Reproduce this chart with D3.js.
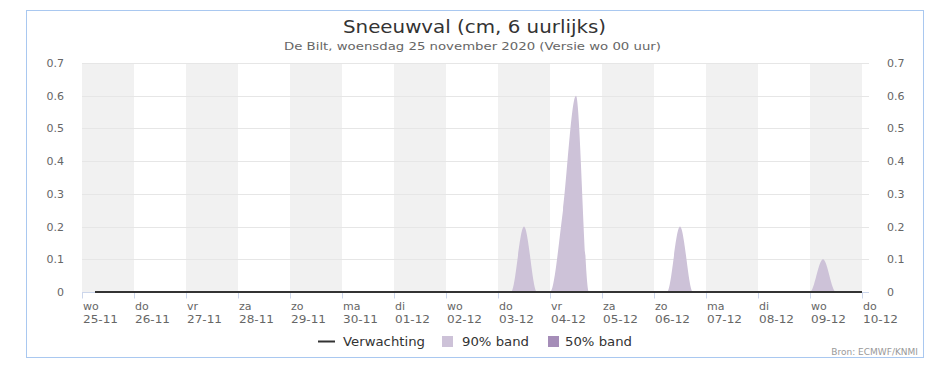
<!DOCTYPE html>
<html>
<head>
<meta charset="utf-8">
<script src="https://cdn.jsdelivr.net/npm/d3@7"></script>
<style>
  body { margin: 0; background: #fff; font-family: "DejaVu Sans", sans-serif; }
  svg { display: block; }
</style>
</head>
<body>
<div id="graph"></div>
<script>
// 6-hourly steps starting wo 25-11 06:00, ending do 10-12 00:00
const startTime = new Date(2020, 10, 25, 6);
const dayLabels = ["wo", "do", "vr", "za", "zo", "ma", "di", "wo", "do", "vr", "za", "zo", "ma", "di", "wo", "do"];
const dateLabels = ["25-11", "26-11", "27-11", "28-11", "29-11", "30-11", "01-12", "02-12", "03-12", "04-12", "05-12", "06-12", "07-12", "08-12", "09-12", "10-12"];
const yTicks = [0, 0.1, 0.2, 0.3, 0.4, 0.5, 0.6, 0.7];

// one value per 6 hours (60 points)
const verwachting = [
  0, 0, 0,        // 25-11
  0, 0, 0, 0,     // 26-11
  0, 0, 0, 0,     // 27-11
  0, 0, 0, 0,     // 28-11
  0, 0, 0, 0,     // 29-11
  0, 0, 0, 0,     // 30-11
  0, 0, 0, 0,     // 01-12
  0, 0, 0, 0,     // 02-12
  0, 0, 0, 0,     // 03-12
  0, 0, 0, 0,     // 04-12
  0, 0, 0, 0,     // 05-12
  0, 0, 0, 0,     // 06-12
  0, 0, 0, 0,     // 07-12
  0, 0, 0, 0,     // 08-12
  0, 0, 0, 0,     // 09-12
  0
];
const band90Low = [
  0, 0, 0,
  0, 0, 0, 0,
  0, 0, 0, 0,
  0, 0, 0, 0,
  0, 0, 0, 0,
  0, 0, 0, 0,
  0, 0, 0, 0,
  0, 0, 0, 0,
  0, 0, 0, 0,
  0, 0, 0, 0,
  0, 0, 0, 0,
  0, 0, 0, 0,
  0, 0, 0, 0,
  0, 0, 0, 0,
  0, 0, 0, 0,
  0
];
const band90High = [
  0, 0, 0,        // 25-11
  0, 0, 0, 0,     // 26-11
  0, 0, 0, 0,     // 27-11
  0, 0, 0, 0,     // 28-11
  0, 0, 0, 0,     // 29-11
  0, 0, 0, 0,     // 30-11
  0, 0, 0, 0,     // 01-12
  0, 0, 0, 0,     // 02-12
  0, 0, 0.2, 0,   // 03-12
  0, 0.25, 0.6, 0, // 04-12
  0, 0, 0, 0,     // 05-12
  0, 0, 0.2, 0,   // 06-12
  0, 0, 0, 0,     // 07-12
  0, 0, 0, 0,     // 08-12
  0, 0.1, 0, 0,   // 09-12
  0
];
const band50Low = band90Low.slice();
const band50High = band90Low.slice();

const W = 951, H = 372;
const plot = { left: 82, right: 862, gridRight: 869, top: 63, bottom: 292 };

const svg = d3.select("#graph").append("svg").attr("width", W).attr("height", H);

const t0 = new Date(2020, 10, 25, 0);
const t1 = new Date(2020, 11, 10, 0);
const x = d3.scaleTime().domain([t0, t1]).range([plot.left, plot.right]);
const y = d3.scaleLinear().domain([0, 0.7]).range([plot.bottom, plot.top]);

const times = verwachting.map((v, i) => new Date(startTime.getTime() + i * 6 * 3600 * 1000));
const days = d3.timeDay.range(t0, t1);
const allTicks = days.concat([t1]);

// frame
svg.append("rect")
  .attr("x", 26.5).attr("y", 10.5).attr("width", 897).attr("height", 347)
  .attr("fill", "#fff").attr("stroke", "#a9c8f0").attr("stroke-width", 1);

// alternating day bands
svg.append("g").selectAll("rect")
  .data(days.filter((d, i) => i % 2 === 0))
  .enter().append("rect")
  .attr("x", (d) => x(d))
  .attr("y", plot.top)
  .attr("width", (d) => x(d3.timeDay.offset(d, 1)) - x(d))
  .attr("height", plot.bottom - plot.top)
  .attr("fill", "#f1f1f1");

// gridlines
svg.append("g").selectAll("line")
  .data(yTicks.filter((v) => v > 0))
  .enter().append("line")
  .attr("x1", plot.left).attr("x2", plot.gridRight)
  .attr("y1", (d) => Math.round(y(d)) + 0.5).attr("y2", (d) => Math.round(y(d)) + 0.5)
  .attr("stroke", "#e6e6e6").attr("stroke-width", 1);

// y labels left and right
const yl = svg.append("g").attr("font-size", 11).attr("fill", "#666");
yl.selectAll(".l").data(yTicks).enter().append("text")
  .attr("x", 64).attr("y", (d) => y(d) + 4)
  .attr("text-anchor", "end").text((d) => d);
yl.selectAll(".r").data(yTicks).enter().append("text")
  .attr("x", 887).attr("y", (d) => y(d) + 4)
  .attr("text-anchor", "start").text((d) => d);

// areas
const area90 = d3.area()
  .x((d, i) => x(times[i]))
  .y0((d, i) => y(band90Low[i]))
  .y1((d) => y(d))
  .curve(d3.curveMonotoneX);
svg.append("path").datum(band90High)
  .attr("d", area90).attr("fill", "#cdc2d8");

const area50 = d3.area()
  .x((d, i) => x(times[i]))
  .y0((d, i) => y(band50Low[i]))
  .y1((d) => y(d))
  .curve(d3.curveMonotoneX);
svg.append("path").datum(band50High)
  .attr("d", area50).attr("fill", "#a58db8");

// x axis
const xAxis = d3.axisBottom(x)
  .tickValues(allTicks)
  .tickSize(6)
  .tickFormat("");
const gx = svg.append("g").attr("transform", `translate(0,${plot.bottom + 0.5})`).call(xAxis);
gx.select(".domain").attr("stroke", "#ccd6eb").attr("d", `M${plot.left},0H${plot.gridRight}`);
gx.selectAll(".tick line").attr("stroke", "#ccd6eb");

const labels = svg.append("g").attr("font-size", 11).attr("fill", "#666");
labels.selectAll(".d").data(allTicks).enter().append("text")
  .attr("x", (d) => x(d) + 1).attr("y", 310).text((d, i) => dayLabels[i]);
labels.selectAll(".m").data(allTicks).enter().append("text")
  .attr("x", (d) => x(d) + 1).attr("y", 323)
  .attr("textLength", 35).attr("lengthAdjust", "spacingAndGlyphs")
  .text((d, i) => dateLabels[i]);

// forecast line
const line = d3.line().x((d, i) => x(times[i])).y((d) => y(d));
svg.append("path").datum(verwachting)
  .attr("d", line).attr("fill", "none").attr("stroke", "#333").attr("stroke-width", 2);

// titles
svg.append("text").attr("x", 343).attr("y", 32.5)
  .attr("font-size", 18).attr("fill", "#333")
  .attr("textLength", 263).attr("lengthAdjust", "spacingAndGlyphs")
  .text("Sneeuwval (cm, 6 uurlijks)");
svg.append("text").attr("x", 284).attr("y", 50)
  .attr("font-size", 11).attr("fill", "#666")
  .attr("textLength", 377).attr("lengthAdjust", "spacingAndGlyphs")
  .text("De Bilt, woensdag 25 november 2020 (Versie wo 00 uur)");

// legend
const lg = svg.append("g").attr("font-size", 12).attr("fill", "#333");
lg.append("line").attr("x1", 318).attr("x2", 335).attr("y1", 341.5).attr("y2", 341.5)
  .attr("stroke", "#333").attr("stroke-width", 2);
lg.append("text").attr("x", 343).attr("y", 345.5)
  .attr("textLength", 82).attr("lengthAdjust", "spacingAndGlyphs").text("Verwachting");
lg.append("rect").attr("x", 442).attr("y", 336).attr("width", 11).attr("height", 11).attr("fill", "#cdc2d8");
lg.append("text").attr("x", 462).attr("y", 345.5)
  .attr("textLength", 67).attr("lengthAdjust", "spacingAndGlyphs").text("90% band");
lg.append("rect").attr("x", 548).attr("y", 336).attr("width", 11).attr("height", 11).attr("fill", "#a58db8");
lg.append("text").attr("x", 565).attr("y", 345.5)
  .attr("textLength", 67).attr("lengthAdjust", "spacingAndGlyphs").text("50% band");

svg.append("text").attr("x", 918).attr("y", 355).attr("text-anchor", "end")
  .attr("font-size", 9).attr("fill", "#999").text("Bron: ECMWF/KNMI");
</script>
</body>
</html>
